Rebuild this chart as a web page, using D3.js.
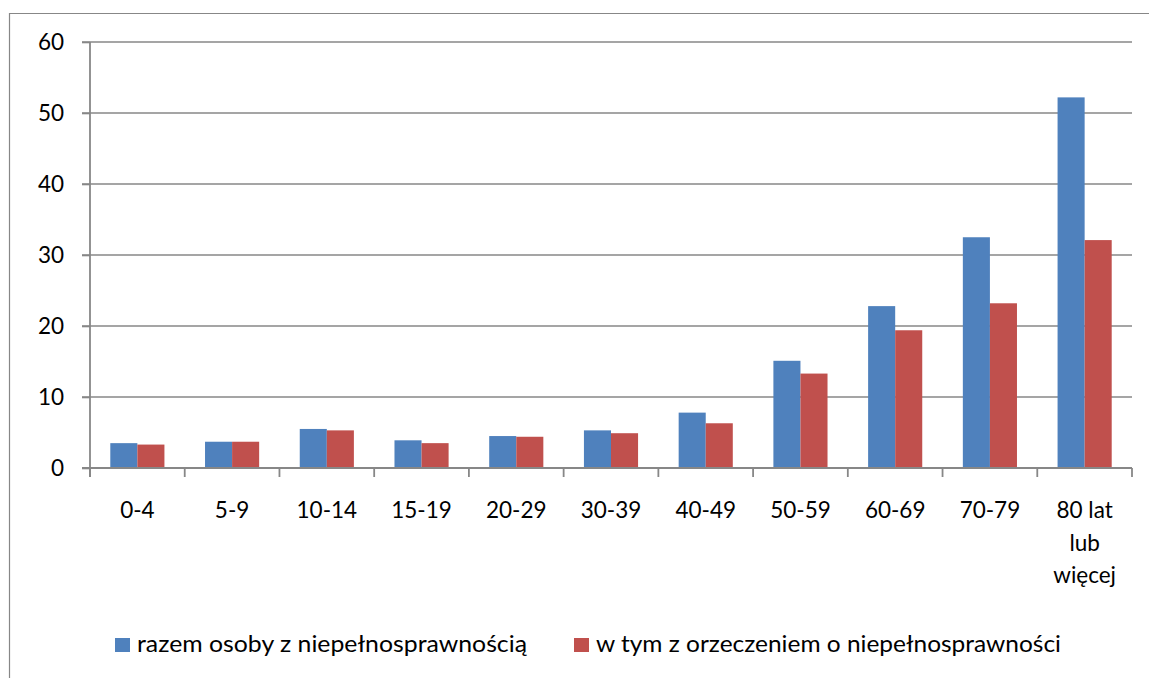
<!DOCTYPE html>
<html><head><meta charset="utf-8">
<script src="https://cdn.jsdelivr.net/npm/d3@7"></script>
<style>body{margin:0;background:#fff}text{font-family:Lato,"Open Sans",sans-serif;fill:#000}</style>
</head><body>
<svg id="c" width="1149" height="678"></svg>
<script>
const categories = ["0-4","5-9","10-14","15-19","20-29","30-39","40-49","50-59","60-69","70-79","80 lat lub więcej"];
const razem = [3.5,3.7,5.5,3.9,4.5,5.3,7.8,15.1,22.8,32.5,52.2];
const orzeczenie = [3.3,3.7,5.3,3.5,4.4,4.9,6.3,13.3,19.4,23.2,32.1];
const yTicks = [0,10,20,30,40,50,60];
const seriesNames = ["razem osoby z niepełnosprawnością","w tym z orzeczeniem o niepełnosprawności"];
const seriesColors = ["#4F81BD","#C0504D"];

const svg = d3.select("#c");
const axisColor = "#878787";
const fs = 22.5;

// outer chart border (only top and left visible)
svg.append("path").attr("d","M9.5,678 V13.5 H1149").attr("fill","none").attr("stroke",axisColor).attr("stroke-width",1.2);

const x0 = d3.scaleBand().domain(categories).range([90,1132]).padding(0);
const x1 = d3.scaleBand().domain([0,1]).range([0,x0.bandwidth()]).paddingInner(0).paddingOuter(0.75);
const y = d3.scaleLinear().domain([0,60]).range([468,42]);

// gridlines
svg.append("g").selectAll("line").data(yTicks.filter(d=>d>0)).join("line")
  .attr("x1",82).attr("x2",1132).attr("y1",d=>y(d)).attr("y2",d=>y(d))
  .attr("stroke",axisColor).attr("stroke-width",1.6);

// bars
const series = [razem, orzeczenie];
series.forEach((vals,si)=>{
  svg.append("g").selectAll("rect").data(vals).join("rect")
    .attr("x",(d,i)=>x0(categories[i])+x1(si))
    .attr("width",x1.bandwidth())
    .attr("y",d=>y(d))
    .attr("height",d=>y(0)-y(d))
    .attr("fill",seriesColors[si]);
});

// y axis
const yAxis = svg.append("g").attr("transform","translate(90,0)")
  .call(d3.axisLeft(y).tickValues(yTicks).tickSize(8).tickPadding(18).tickSizeOuter(0));
yAxis.select(".domain").remove();
yAxis.selectAll(".tick line").attr("stroke",axisColor).attr("stroke-width",1.6);
yAxis.selectAll(".tick text").attr("font-size",fs).attr("font-family","Lato").attr("fill","#000");
svg.append("line").attr("x1",90).attr("x2",90).attr("y1",42).attr("y2",477).attr("stroke",axisColor).attr("stroke-width",1.8);

// x axis baseline & ticks
svg.append("line").attr("x1",82).attr("x2",1132).attr("y1",y(0)).attr("y2",y(0)).attr("stroke",axisColor).attr("stroke-width",1.8);
const bounds = categories.map(c=>x0(c)).concat([x0.range()[1]]);
svg.append("g").selectAll("line").data(bounds).join("line")
  .attr("x1",d=>d).attr("x2",d=>d).attr("y1",y(0)).attr("y2",y(0)+9)
  .attr("stroke",axisColor).attr("stroke-width",1.8);

// x labels with wrapping
const meas = svg.append("text").attr("font-size",fs).attr("visibility","hidden");
function wrap(str,maxW){
  const words = str.split(" "); const lines=[]; let cur="";
  words.forEach(w=>{
    const t = cur ? cur+" "+w : w;
    meas.text(t);
    if(cur && meas.node().getComputedTextLength()>maxW){lines.push(cur);cur=w;} else cur=t;
  });
  if(cur) lines.push(cur);
  return lines;
}
categories.forEach(c=>{
  const lines = wrap(c,82);
  const t = svg.append("text").attr("text-anchor","middle").attr("font-size",fs)
    .attr("x",x0(c)+x0.bandwidth()/2).attr("y",518);
  lines.forEach((l,i)=>t.append("tspan").attr("x",x0(c)+x0.bandwidth()/2).attr("dy",i?32.5:0).text(l));
});
meas.remove();

// legend
const legX = [115,574];
const legW = [390,465];
seriesNames.forEach((n,i)=>{
  svg.append("rect").attr("x",legX[i]).attr("y",638).attr("width",15).attr("height",14).attr("fill",seriesColors[i]);
  svg.append("text").attr("x",legX[i]+22).attr("y",652).attr("font-size",fs+1.5)
    .attr("textLength",legW[i]).attr("lengthAdjust","spacingAndGlyphs").text(n);
});
</script>
</body></html>
